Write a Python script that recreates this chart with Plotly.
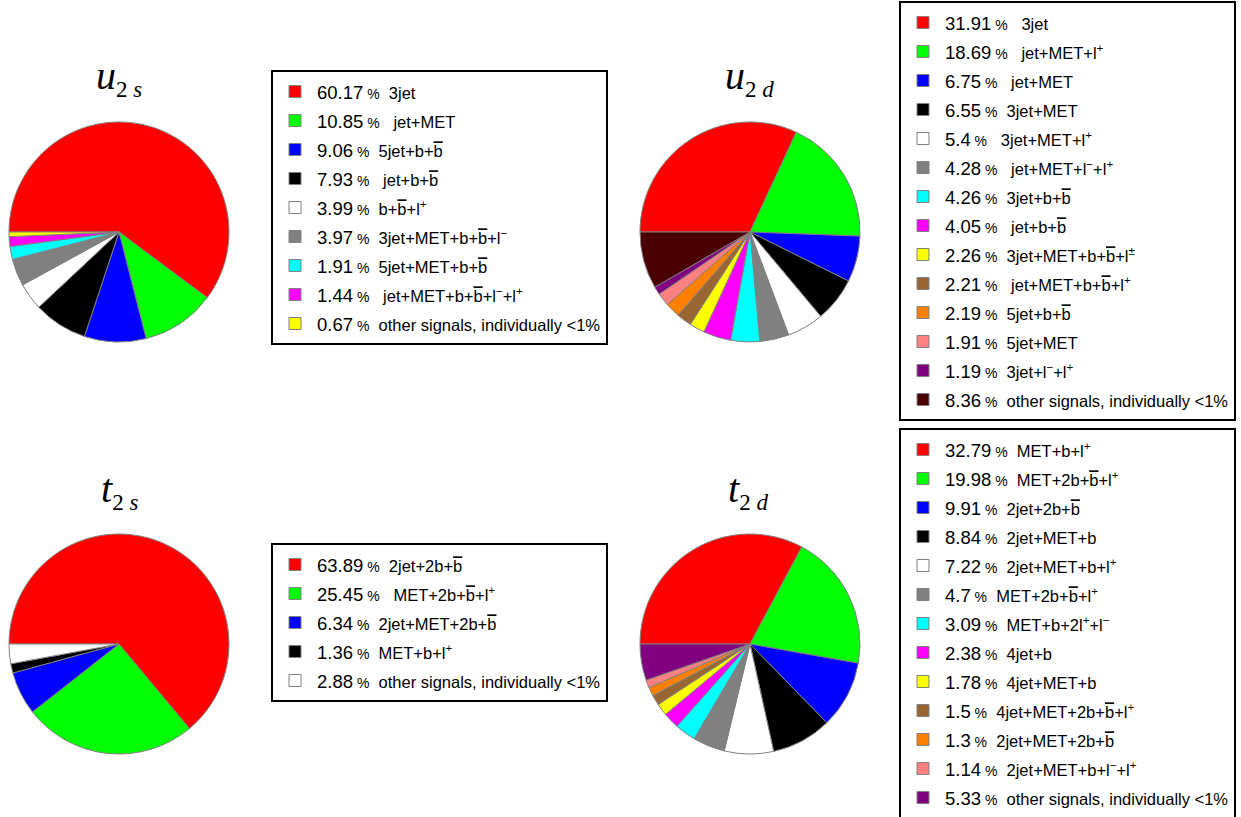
import plotly.graph_objects as go

W, H = 1241, 817

BB = '<span style="text-decoration:overline">b</span>'
LP = 'l<sup>+</sup>'
LM = 'l<sup>\u2212</sup>'
LPM = 'l<sup>\u00b1</sup>'
OTHER = 'other signals, individually &lt;1%'

# ---- data ----
u2s_values = [60.17, 10.85, 9.06, 7.93, 3.99, 3.97, 1.91, 1.44, 0.67]
u2s_names = ['3jet', ' jet+MET', '5jet+b+' + BB, ' jet+b+' + BB, 'b+' + BB + '+' + LP,
             '3jet+MET+b+' + BB + '+' + LM, '5jet+MET+b+' + BB,
             ' jet+MET+b+' + BB + '+' + LM + '+' + LP, OTHER]

u2d_values = [31.91, 18.69, 6.75, 6.55, 5.4, 4.28, 4.26, 4.05, 2.26, 2.21, 2.19, 1.91, 1.19, 8.36]
u2d_names = [' 3jet', ' jet+MET+' + LP, ' jet+MET', '3jet+MET', ' 3jet+MET+' + LP,
             ' jet+MET+' + LM + '+' + LP, '3jet+b+' + BB, ' jet+b+' + BB,
             '3jet+MET+b+' + BB + '+' + LPM, ' jet+MET+b+' + BB + '+' + LP,
             '5jet+b+' + BB, '5jet+MET', '3jet+' + LM + '+' + LP, OTHER]

t2s_values = [63.89, 25.45, 6.34, 1.36, 2.88]
t2s_names = ['2jet+2b+' + BB, ' MET+2b+' + BB + '+' + LP, '2jet+MET+2b+' + BB,
             'MET+b+' + LP, OTHER]

t2d_values = [32.79, 19.98, 9.91, 8.84, 7.22, 4.7, 3.09, 2.38, 1.78, 1.5, 1.3, 1.14, 5.33]
t2d_names = ['MET+b+' + LP, 'MET+2b+' + BB + '+' + LP, '2jet+2b+' + BB, '2jet+MET+b',
             '2jet+MET+b+' + LP, 'MET+2b+' + BB + '+' + LP, 'MET+b+2' + LP + '+' + LM,
             '4jet+b', '4jet+MET+b', '4jet+MET+2b+' + BB + '+' + LP,
             '2jet+MET+2b+' + BB, '2jet+MET+b+' + LM + '+' + LP, OTHER]

base_colors = ['#ff0000', '#00ff00', '#0000ff', '#000000', '#ffffff', '#808080',
               '#00ffff', '#ff00ff', '#ffff00', '#996633', '#ff8000', '#ff8080', '#800080']
u2s_colors = base_colors[:8] + ['#ffff00']
u2d_colors = base_colors[:13] + ['#4a0000']
t2s_colors = base_colors[:4] + ['#ffffff']
t2d_colors = base_colors[:12] + ['#800080']

NUM_STYLE = "font-size:18.5px"
WORD_STYLE = "font-size:16.5px"


def make_labels(values, names):
    out = []
    for v, n in zip(values, names):
        n = n.replace(' ', '\u00a0', 1) if n.startswith(' ') else n
        out.append(f'<span style="{NUM_STYLE}">{v}</span>'
                   f'<span style="font-size:14px">\u00a0%</span>'
                   f'<span style="{WORD_STYLE}">\u00a0\u00a0{n}</span>')
    return out


# pie geometry (pixels): center x, center y, radius
pies = [
    ('u2s', u2s_values, u2s_names, u2s_colors, 119, 232, 110, 'legend'),
    ('u2d', u2d_values, u2d_names, u2d_colors, 750, 232, 110, 'legend2'),
    ('t2s', t2s_values, t2s_names, t2s_colors, 119, 644, 110, 'legend3'),
    ('t2d', t2d_values, t2d_names, t2d_colors, 750, 644, 110, 'legend4'),
]

fig = go.Figure()
for name, vals, names, cols, cx, cy, r, lg in pies:
    fig.add_trace(go.Pie(
        values=vals,
        labels=make_labels(vals, names),
        marker=dict(colors=cols, line=dict(color='#808080', width=1)),
        sort=False,
        direction='clockwise',
        rotation=270,
        textinfo='none',
        hoverinfo='skip',
        domain=dict(x=[(cx - r) / W, (cx + r) / W], y=[1 - (cy + r) / H, 1 - (cy - r) / H]),
        legend=lg,
        showlegend=True,
    ))

legend_style = dict(
    xref='container', yref='container', xanchor='left', yanchor='top',
    bgcolor='white', bordercolor='black', borderwidth=2,
    font=dict(family='Liberation Sans, Arial, sans-serif', size=20, color='black'),
    traceorder='normal', itemclick=False, itemdoubleclick=False,
    itemwidth=34, maxheight=817,
)

titles = [
    ('u', 's', 119, 78),
    ('u', 'd', 749, 78),
    ('t', 's', 119, 490),
    ('t', 'd', 748, 490),
]
annotations = []
for main, sub, x, y in titles:
    annotations.append(dict(
        text=f'<i>{main}</i><sub><span style="font-size:23px">2\u00a0<i>{sub}</i></span></sub>',
        x=x / W, y=1 - y / H, xref='paper', yref='paper',
        xanchor='center', yanchor='middle', showarrow=False,
        font=dict(family='Liberation Serif, Times New Roman, serif', size=40, color='black'),
    ))

fig.update_layout(
    width=W, height=H, autosize=False,
    margin=dict(l=0, r=0, t=0, b=0, autoexpand=False),
    paper_bgcolor='white', plot_bgcolor='white',
    legend=dict(x=271 / W, y=1 - 70 / H, **legend_style),
    legend2=dict(x=899 / W, y=1 - 1 / H, **legend_style),
    legend3=dict(x=271 / W, y=1 - 543 / H, **legend_style),
    legend4=dict(x=899 / W, y=1 - 428 / H, **legend_style),
    annotations=annotations,
)

fig.write_html('out.html', config={'displayModeBar': False},
               post_script="document.body.style.margin='0';")
